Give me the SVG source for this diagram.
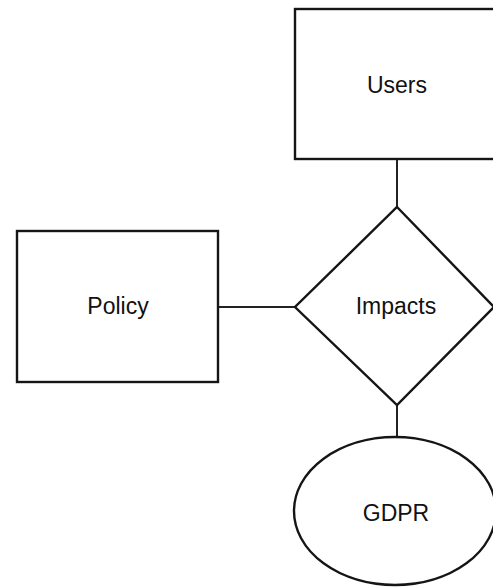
<svg xmlns="http://www.w3.org/2000/svg" width="493" height="588" viewBox="0 0 493 588">
<style>
.shape{fill:#fff;stroke:#151515;stroke-width:2.4}
.conn{fill:none;stroke:#222;stroke-width:2}
.lbl{font-family:"Liberation Sans",Arial,sans-serif;font-size:23px;fill:#111;text-anchor:middle}
</style>
<rect width="493" height="588" fill="#fff"/>
<g id="connectors">
<line class="conn" x1="397" y1="159" x2="397" y2="207"/>
<line class="conn" x1="218" y1="307" x2="295" y2="307"/>
<line class="conn" x1="397" y1="405" x2="397" y2="437"/>
</g>
<g id="users">
<rect class="shape" x="295" y="9" width="210" height="150"/>
<text class="lbl" x="397" y="93">Users</text>
</g>
<g id="policy">
<rect class="shape" x="17" y="231" width="201" height="151"/>
<text class="lbl" x="118" y="314">Policy</text>
</g>
<g id="impacts">
<polygon class="shape" points="397,207 494,307 397,405 295,307"/>
<text class="lbl" x="396" y="314">Impacts</text>
</g>
<g id="gdpr">
<ellipse class="shape" cx="395" cy="511" rx="101" ry="74"/>
<text class="lbl" x="396" y="521">GDPR</text>
</g>
</svg>
